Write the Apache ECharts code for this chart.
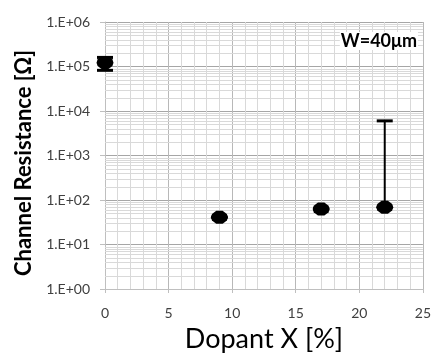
<!DOCTYPE html>
<html><head><meta charset="utf-8">
<script src="https://cdn.jsdelivr.net/npm/echarts@6/dist/echarts.min.js"></script>
<style>html,body{margin:0;padding:0;background:#fff}#c{width:434px;height:358px}</style>
</head><body><div id="c"></div>
<script>
var dopant = [0, 9, 17, 22];
var resistance = [121000, 41, 63, 69];
var errLow = [82000, 41, 63, 69];
var errHigh = [160000, 41, 63, 6000];
var yTicks = ['1.E+00','1.E+01','1.E+02','1.E+03','1.E+04','1.E+05','1.E+06'];
var xRange = [0, 25];

var minorVals = [];
for (var k = 0; k < 6; k++) for (var m = 2; m <= 9; m++) minorVals.push([m * Math.pow(10, k)]);

var hexPath = 'path://M-3,-6 L3,-6 L7,-3 L8,0 L7,3 L3,6 L-3,6 L-7,3 L-8,0 L-7,-3 Z';
var font = 'Lato';
var chart = echarts.init(document.getElementById('c'), null, {renderer: 'canvas'});
chart.setOption({
  animation: false,
  backgroundColor: '#fff',
  grid: {left: 105, right: 10, top: 22, bottom: 68},
  xAxis: {
    type: 'value', min: xRange[0], max: xRange[1], interval: 5,
    name: 'Dopant X [%]', nameLocation: 'middle', nameGap: 37,
    nameTextStyle: {fontFamily: font, fontSize: 27, color: '#000'},
    axisLine: {show: true, lineStyle: {color: '#bfbfbf'}},
    axisTick: {show: true, length: 4, lineStyle: {color: '#bfbfbf'}},
    axisLabel: {fontFamily: font, fontSize: 14, color: '#404040', margin: 17},
    splitLine: {show: true, lineStyle: {color: '#b8b8b8', width: 1}},
    minorTick: {show: false, splitNumber: 5},
    minorSplitLine: {show: true, lineStyle: {color: '#d9d9d9', width: 1}}
  },
  yAxis: {
    type: 'log', logBase: 10, min: 1, max: 1000000,
    axisLine: {show: true, lineStyle: {color: '#bfbfbf'}},
    axisTick: {show: true, length: 5, lineStyle: {color: '#bfbfbf'}},
    axisLabel: {fontFamily: font, fontSize: 14, color: '#404040', margin: 15,
      formatter: function (v) { var e = Math.round(Math.log10(v)); return yTicks[e]; }},
    splitLine: {show: true, lineStyle: {color: '#a6a6a6', width: 1}}
  },
  graphic: [{
    type: 'text', right: 16, top: 32, z: 100,
    style: {text: 'W=40μm', fontFamily: font, fontSize: 18, fontWeight: 'bold', fill: '#000',
      backgroundColor: '#fff', padding: [0, 1]}
  }, {
    type: 'text', x: 24, y: 163, rotation: Math.PI / 2, z: 100,
    style: {text: 'Channel Resistance [Ω]', fontFamily: font, fontSize: 22, fontWeight: 'bold', fill: '#000',
      align: 'center', verticalAlign: 'middle'}
  }],
  series: [
    {
      type: 'custom', z: 1, silent: true,
      data: minorVals,
      renderItem: function (params, api) {
        var a = api.coord([xRange[0], api.value(0)]);
        var b = api.coord([xRange[1], api.value(0)]);
        return {type: 'line', shape: {x1: a[0], y1: Math.round(a[1]) + 0.5, x2: b[0], y2: Math.round(b[1]) + 0.5},
          style: {stroke: '#d9d9d9', lineWidth: 1}};
      }
    },
    {
      type: 'custom', z: 5,
      data: dopant.map(function (x, i) { return [x, errLow[i], errHigh[i]]; }),
      renderItem: function (params, api) {
        var lo = api.coord([api.value(0), api.value(1)]);
        var hi = api.coord([api.value(0), api.value(2)]);
        var w = 8;
        return {type: 'group', children: [
          {type: 'line', shape: {x1: hi[0], y1: hi[1], x2: lo[0], y2: lo[1]}, style: {stroke: '#000', lineWidth: 2}},
          {type: 'line', shape: {x1: hi[0] - w, y1: hi[1], x2: hi[0] + w, y2: hi[1]}, style: {stroke: '#000', lineWidth: 3}},
          {type: 'line', shape: {x1: lo[0] - w, y1: lo[1], x2: lo[0] + w, y2: lo[1]}, style: {stroke: '#000', lineWidth: 3}}
        ]};
      }
    },
    {
      type: 'scatter', z: 6,
      symbol: hexPath, symbolSize: [17, 13],
      itemStyle: {color: '#000', opacity: 1},
      data: dopant.map(function (x, i) { return [x, resistance[i]]; })
    }
  ]
});
</script></body></html>
